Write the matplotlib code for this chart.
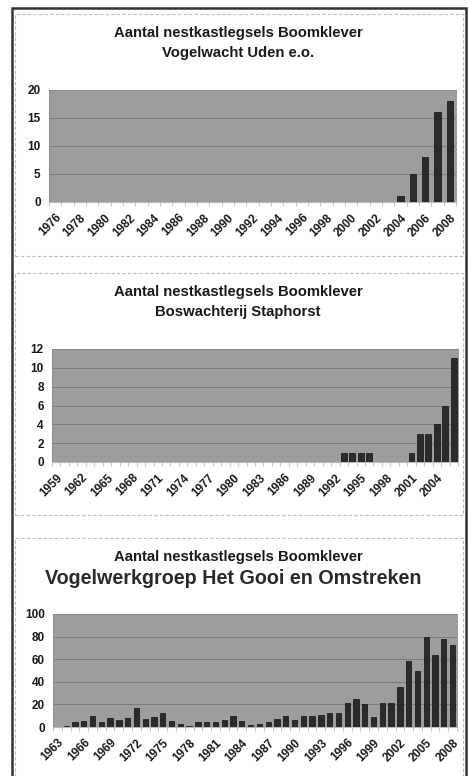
import matplotlib
matplotlib.use("Agg")
import matplotlib.pyplot as plt
from matplotlib.patches import Rectangle

# data
uden_years = list(range(1976, 2009))
uden_counts = [0, 0, 0, 0, 0, 0, 0, 0, 0, 0, 0, 0, 0, 0, 0, 0, 0, 0, 0, 0,
               0, 0, 0, 0, 0, 0, 0, 0, 1, 5, 8, 16, 18]

staph_years = list(range(1959, 2007))
staph_counts = [0, 0, 0, 0, 0, 0, 0, 0, 0, 0, 0, 0, 0, 0, 0, 0, 0, 0, 0, 0,
                0, 0, 0, 0, 0, 0, 0, 0, 0, 0, 0, 0, 0, 0, 1, 1, 1, 1, 0, 0,
                0, 0, 1, 3, 3, 4, 6, 11]

gooi_years = list(range(1963, 2009))
gooi_counts = [0, 1, 4, 5, 10, 4, 8, 6, 8, 17, 7, 9, 12, 5, 3, 1, 4, 4, 4, 6,
               10, 5, 2, 3, 4, 7, 10, 6, 10, 10, 11, 12, 12, 21, 25, 20, 9, 21,
               21, 35, 58, 50, 80, 64, 78, 73]

W, H = 469, 776
plt.rcParams['font.family'] = ['Liberation Sans', 'DejaVu Sans']
fig = plt.figure(figsize=(W / 100, H / 100), dpi=100)
fig.patch.set_facecolor('white')


def box(x0, y0, x1, y1):
    # pixel box (top-left origin) -> figure fraction rect
    return [x0 / W, 1 - y1 / H, (x1 - x0) / W, (y1 - y0) / H]


def fy(y):
    return 1 - y / H


# outer frame and dashed panel borders
fig.add_artist(Rectangle((12 / W, fy(782)), (466 - 12) / W, (782 - 8) / H,
                         transform=fig.transFigure, fill=False,
                         edgecolor='#333333', lw=1.8))
for top, bot in [(14, 256), (273, 515), (538, 790)]:
    fig.add_artist(Rectangle((15 / W, fy(bot)), (463 - 15) / W, (bot - top) / H,
                             transform=fig.transFigure, fill=False,
                             edgecolor='#bbbbbb', lw=0.8, ls=(0, (3, 2))))


def panel(rect, years, counts, ymax, ystep, label_every, width):
    ax = fig.add_axes(box(*rect))
    ax.set_facecolor('#9d9d9d')
    x = list(range(len(years)))
    ax.bar(x, counts, width=width, color='#2b2b2b', edgecolor='#111111',
           linewidth=0.5, zorder=3)
    ax.set_xlim(-0.5, len(years) - 0.5)
    ax.set_ylim(0, ymax)
    ax.set_yticks(range(0, ymax + 1, ystep))
    ax.yaxis.grid(True, color='#777777', lw=0.6, zorder=1)
    ax.set_xticks(x[::label_every])
    ax.set_xticklabels([str(y) for y in years[::label_every]], rotation=45,
                       ha='right', va='top', rotation_mode='anchor')
    ax.set_xticks([i - 0.5 for i in x] + [len(x) - 0.5], minor=True)
    ax.tick_params(axis='x', which='major', length=0, pad=7)
    ax.tick_params(axis='x', which='minor', length=3, color='#bbbbbb')
    ax.tick_params(axis='y', length=0, pad=6)
    for lab in ax.get_xticklabels() + ax.get_yticklabels():
        lab.set_fontsize(8.5)
        lab.set_fontweight('bold')
        lab.set_color('#1a1a1a')
    for s in ['top', 'right', 'left']:
        ax.spines[s].set_color('#8a8a8a')
        ax.spines[s].set_linewidth(0.6)
    ax.spines['bottom'].set_color('#bbbbbb')
    return ax


panel((49, 90, 456, 202), uden_years, uden_counts, 20, 5, 2, 0.5)
panel((52, 349, 458, 462), staph_years, staph_counts, 12, 2, 3, 0.7)
panel((53, 614, 457, 727), gooi_years, gooi_counts, 100, 20, 3, 0.6)

title = "Aantal nestkastlegsels Boomklever"
tkw = dict(ha='center', va='center', fontsize=10.7, fontweight='bold',
           color='#1a1a1a')
fig.text(238 / W, fy(33), title, **tkw)
fig.text(238 / W, fy(53), "Vogelwacht Uden e.o.", **tkw)
fig.text(238 / W, fy(292), title, **tkw)
fig.text(238 / W, fy(312), "Boswachterij Staphorst", **tkw)
fig.text(238 / W, fy(557), title, **tkw)
fig.text(233 / W, fy(579), "Vogelwerkgroep Het Gooi en Omstreken", ha='center',
         va='center', fontsize=14.2, fontweight='bold', color='#2a2a2a')

fig.savefig("out.png", dpi=100)
